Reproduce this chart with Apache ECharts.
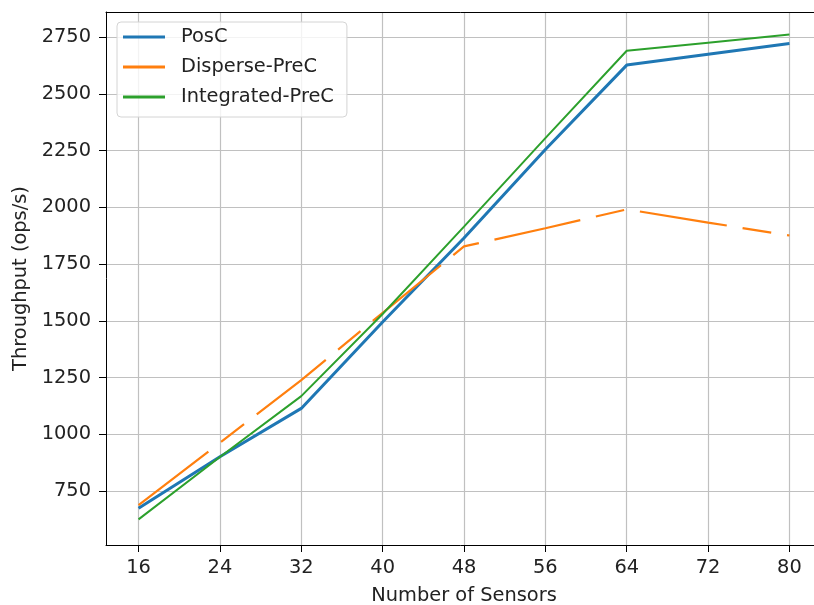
<!DOCTYPE html>
<html>
<head>
<meta charset="utf-8">
<script src="https://cdn.jsdelivr.net/npm/echarts@6/dist/echarts.min.js"></script>
<style>
  html, body { margin: 0; padding: 0; background: #fff; }
  #chart { width: 814px; height: 605px; }
</style>
</head>
<body>
<div id="chart"></div>
<script>
// sensor counts on x
const sensors = [16, 24, 32, 40, 48, 56, 64, 72, 80]
const xTicks = [16, 24, 32, 40, 48, 56, 64, 72, 80]
const yTicks = [750, 1000, 1250, 1500, 1750, 2000, 2250, 2500, 2750]

// throughput values (ops/s)
const posC = [674, 901, 1114, 1495, 1865, 2255, 2627, 2675, 2722]
const disperseC = [688, 963, 1239, 1535, 1828, 1908, 1991, 1933, 1876]
const integratedC = [625, 900, 1168, 1530, 1915, 2305, 2690, 2726, 2762]

const font = 'DejaVu Sans'
const fs = 19.4
const toPairs = vals => sensors.map((s, i) => [s, vals[i]])

const chart = echarts.init(document.getElementById('chart'))

const option = {
  animation: false,
  grid: {
    left: 106, top: 12, bottom: 60, right: -8,
    outerBoundsMode: 'none', containLabel: false
  },
  legend: {
    left: 117, top: 22,
    orient: 'vertical',
    icon: 'rect',
    itemWidth: 42, itemHeight: 3, itemGap: 10,
    padding: [5, 13, 10, 6],
    backgroundColor: 'rgba(255,255,255,0.8)',
    borderColor: '#d4d4d4', borderWidth: 1, borderRadius: 4,
    textStyle: { fontFamily: font, fontSize: fs, color: '#222', lineHeight: 20, padding: [0, 0, 0, 11] },
    data: ['PosC', 'Disperse-PreC', 'Integrated-PreC']
  },
  xAxis: [
    {
      type: 'value', min: 12.8, max: 83.2,
      name: 'Number of Sensors', nameLocation: 'middle', nameGap: 41,
      nameTextStyle: { fontFamily: font, fontSize: fs, color: '#222' },
      axisLine: { show: true, lineStyle: { color: '#000' } },
      axisTick: { show: true, length: 7, customValues: xTicks, lineStyle: { color: '#000' } },
      axisLabel: { customValues: xTicks, fontFamily: font, fontSize: fs, color: '#222', margin: 13 },
      splitLine: { show: true, lineStyle: { color: '#c0c0c0', width: 1.2 } }
    },
    {
      // top spine only
      type: 'value', position: 'top', min: 12.8, max: 83.2,
      axisLine: { show: true, onZero: false, lineStyle: { color: '#000' } },
      axisTick: { show: false }, axisLabel: { show: false }, splitLine: { show: false }
    }
  ],
  yAxis: {
    type: 'value', min: 512, max: 2861,
    name: 'Throughput (ops/s)', nameLocation: 'middle', nameGap: 75,
    nameTextStyle: { fontFamily: font, fontSize: fs, color: '#222' },
    axisLine: { show: true, lineStyle: { color: '#000' } },
    axisTick: { show: true, length: 7, customValues: yTicks, lineStyle: { color: '#000' } },
    axisLabel: {
      customValues: yTicks, fontFamily: font, fontSize: fs, color: '#222', margin: 15,
      formatter: v => String(v)
    },
    splitLine: { show: true, lineStyle: { color: '#c0c0c0', width: 1.2 } }
  },
  series: [
    {
      name: 'PosC', type: 'line', data: toPairs(posC),
      symbol: 'none', color: '#1f77b4',
      lineStyle: { width: 3, color: '#1f77b4' }
    },
    {
      name: 'Disperse-PreC', type: 'line', data: toPairs(disperseC),
      symbol: 'none', color: '#ff7f0e',
      lineStyle: { width: 2.2, color: '#ff7f0e', type: [88, 16, 29, 16] }
    },
    {
      name: 'Integrated-PreC', type: 'line', data: toPairs(integratedC),
      symbol: 'none', color: '#2ca02c',
      lineStyle: { width: 2, color: '#2ca02c' }
    }
  ]
}

chart.setOption(option)
</script>
</body>
</html>
